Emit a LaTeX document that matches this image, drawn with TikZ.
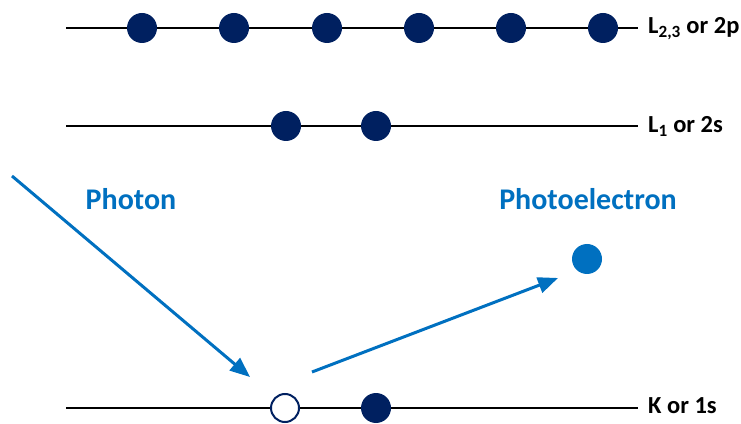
\documentclass[tikz,border=0pt]{standalone}
\usepackage{fontspec}
\setmainfont{Carlito}
\usetikzlibrary{arrows.meta}
\definecolor{navy}{HTML}{002060}
\definecolor{pblue}{HTML}{0070C0}
\begin{document}
\begin{tikzpicture}[x=1pt,y=1pt,
  level/.style={line width=1.8pt, black},
  electron/.style={circle, fill=navy, minimum size=30pt, inner sep=0pt},
  hole/.style={circle, draw=navy, line width=2pt, fill=white, minimum size=28pt, inner sep=0pt},
  lbl/.style={anchor=base west, font=\bfseries\fontsize{24.5}{28}\selectfont, inner sep=0pt},
  bluelbl/.style={anchor=base, font=\bfseries\fontsize{30}{34}\selectfont, text=pblue, inner sep=0pt},
  beam/.style={pblue, line width=3pt, -{Triangle[length=20pt,width=16pt]}}]
\useasboundingbox (0,0) rectangle (741,423);
% levels
\coordinate (l3a) at (66,395); \coordinate (l3b) at (638,395);
\coordinate (l1a) at (66,297); \coordinate (l1b) at (638,297);
\coordinate (ka) at (66,15); \coordinate (kb) at (638,15);
\draw[level] (l3a) -- (l3b);
\draw[level] (l1a) -- (l1b);
\draw[level] (ka) -- (kb);
% electrons
\foreach \x [count=\i] in {142,234,327,419,511,603} \node[electron] (e\i) at (\x,395) {};
\node[electron] (m1) at (286,297) {};
\node[electron] (m2) at (376,297) {};
\node[hole] (h) at (285,15) {};
\node[electron] (k2) at (376,15) {};
% labels
\node[lbl] (t1) at (648,389) {L\textsubscript{\bfseries 2,3} or 2p};
\node[lbl] (t2) at (648,290) {L\textsubscript{\bfseries 1} or 2s};
\node[lbl] (t3) at (648,10) {K or 1s};
\node[bluelbl] (ph) at (131,213) {Photon};
\node[bluelbl] (pe) at (588,213) {Photoelectron};
% photoelectron
\node[circle, fill=pblue, minimum size=30pt, inner sep=0pt] (pdot) at (587,164) {};
% arrows
\coordinate (ps) at (12,247);
\coordinate (pt) at (250,46);
\coordinate (es) at (312,51);
\coordinate (et) at (558,145);
\draw[beam] (ps) -- (pt);
\draw[beam] (es) -- (et);
\end{tikzpicture}
\end{document}
